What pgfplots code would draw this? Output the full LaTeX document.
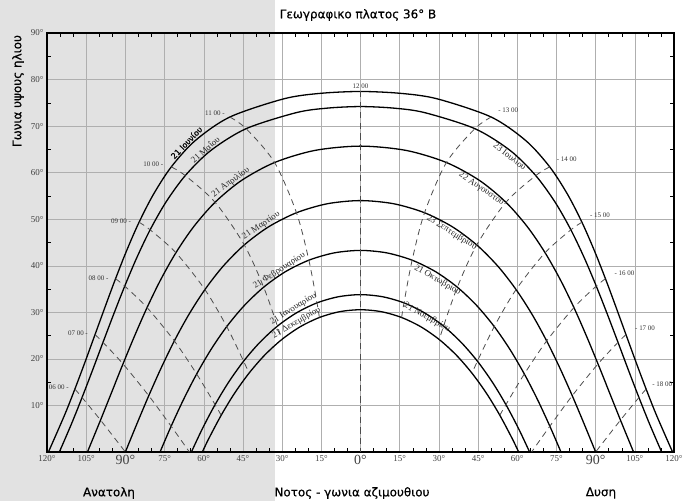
\documentclass[border=0pt]{standalone}
\usepackage{pgfplots}
\pgfplotsset{compat=1.18}
\usepackage{fontspec}
\setmainfont{Liberation Serif}
\newfontfamily\gsans[FakeBold=0.6]{DejaVu Sans}
\definecolor{bggray}{RGB}{226,226,226}
\definecolor{gridgray}{RGB}{175,175,175}
\tikzset{
  date/.style={black, line width=1.3bp, smooth},
  hour/.style={black!70, line width=0.8bp, smooth, dash pattern=on 6bp off 4.5bp},
  hl/.style={font=\fontsize{7}{8}\selectfont, text=black!80, inner sep=1bp},
  dl/.style={font=\fontsize{9}{10}\selectfont, text=black!85, inner sep=1bp},
  bl/.style={font=\gsans\fontsize{12}{14}\selectfont},
}
\begin{document}
\begin{tikzpicture}
\path[use as bounding box] (-47bp,-49bp) rectangle (646bp,452bp);
\fill[bggray] (-47bp,-49bp) rectangle (228bp,452bp);
\begin{axis}[
  at={(0bp,0bp)}, anchor=south west,
  scale only axis, width=627bp, height=419bp,
  xmin=-120, xmax=120, ymin=0, ymax=90,
  clip=false,
  axis line style={line width=1.1bp, black},
  xtick={-120,-105,...,120},
  xticklabels={120°,105°,{\fontsize{14}{14}\selectfont 90°},75°,60°,45°,30°,15°,{\fontsize{14}{14}\selectfont 0°},15°,30°,45°,60°,75°,{\fontsize{14}{14}\selectfont 90°},105°,120°},
  ytick={10,20,...,90},
  yticklabels={10°,20°,30°,40°,50°,60°,70°,80°,90°},
  minor x tick num=2, minor y tick num=1,
  major tick length=0pt, minor tick length=4bp,
  tick align=inside,
  every minor tick/.style={black, line width=0.5bp},
  grid=major,
  major grid style={gridgray, line width=0.5bp},
  ticklabel style={font=\fontsize{9}{10}\selectfont, text=black!75},
]
% date curves (21 Jun; 21 May/23 Jul; 21 Apr/22 Aug; 21 Mar/23 Sep; 21 Feb/21 Oct; 21 Jan/21 Nov; 21 Dec)
\addplot[date] coordinates {(-119.45,0) (-113.32,7.87) (-109.33,13.52) (-105.45,19.31) (-101.62,25.21) (-97.75,31.19) (-93.76,37.22) (-89.49,43.29) (-84.76,49.35) (-79.25,55.35) (-72.43,61.24) (-63.32,66.86) (-50.02,71.95) (-29.36,75.86) (-15.50,77.03) (0,77.44) (15.50,77.03) (29.36,75.86) (50.02,71.95) (63.32,66.86) (72.43,61.24) (79.25,55.35) (84.76,49.35) (89.49,43.29) (93.76,37.22) (97.75,31.19) (101.62,25.21) (105.45,19.31) (109.33,13.52) (113.32,7.87) (119.45,0)};
\addplot[date] coordinates {(-115.27,0) (-110.69,5.96) (-106.58,11.71) (-102.56,17.58) (-98.57,23.55) (-94.50,29.57) (-90.25,35.63) (-85.66,41.70) (-80.53,47.72) (-74.51,53.64) (-67.08,59.37) (-57.33,64.75) (-43.78,69.45) (-24.60,72.89) (-12.76,73.86) (0,74.2) (12.76,73.86) (24.60,72.89) (43.78,69.45) (57.33,64.75) (67.08,59.37) (74.51,53.64) (80.53,47.72) (85.66,41.70) (90.25,35.63) (94.50,29.57) (98.57,23.55) (102.56,17.58) (106.58,11.71) (110.69,5.96) (115.27,0)};
\addplot[date] coordinates {(-104.52,0) (-99.51,6.85) (-95.23,12.86) (-90.91,18.92) (-86.44,24.98) (-81.70,31.02) (-76.51,36.98) (-70.66,42.80) (-63.86,48.39) (-55.67,53.64) (-45.54,58.33) (-32.89,62.18) (-17.45,64.78) (0,65.7) (17.45,64.78) (32.89,62.18) (45.54,58.33) (55.67,53.64) (63.86,48.39) (70.66,42.80) (76.51,36.98) (81.70,31.02) (86.44,24.98) (90.91,18.92) (95.23,12.86) (99.51,6.85) (104.52,0)};
\addplot[date] coordinates {(-90,0) (-85.58,6.06) (-81.05,12.09) (-76.31,18.04) (-71.26,23.86) (-65.72,29.51) (-59.55,34.89) (-52.55,39.93) (-44.49,44.48) (-35.17,48.37) (-24.51,51.39) (-12.63,53.33) (0,54) (12.63,53.33) (24.51,51.39) (35.17,48.37) (44.49,44.48) (52.55,39.93) (59.55,34.89) (65.72,29.51) (71.26,23.86) (76.31,18.04) (81.05,12.09) (85.58,6.06) (90,0)};
\addplot[date] coordinates {(-76.73,0) (-72.48,5.54) (-67.76,11.25) (-62.71,16.76) (-57.23,22.01) (-51.20,26.94) (-44.51,31.44) (-37.07,35.40) (-28.80,38.71) (-19.76,41.20) (-10.06,42.77) (0,43.3) (10.06,42.77) (19.76,41.20) (28.80,38.71) (37.07,35.40) (44.51,31.44) (51.20,26.94) (57.23,22.01) (62.71,16.76) (67.76,11.25) (72.48,5.54) (76.73,0)};
\addplot[date] coordinates {(-64.73,0) (-60.50,5.03) (-55.66,10.18) (-50.44,15.03) (-44.75,19.51) (-38.55,23.54) (-31.79,27.04) (-24.47,29.90) (-16.65,32.03) (-8.43,33.35) (0,33.8) (8.43,33.35) (16.65,32.03) (24.47,29.90) (31.79,27.04) (38.55,23.54) (44.75,19.51) (50.44,15.03) (55.66,10.18) (60.50,5.03) (64.73,0)};
\addplot[date] coordinates {(-60.55,0) (-58.07,2.88) (-53.33,7.89) (-48.23,12.60) (-42.69,16.92) (-36.69,20.80) (-30.18,24.14) (-23.18,26.87) (-15.74,28.89) (-7.96,30.14) (0,30.56) (7.96,30.14) (15.74,28.89) (23.18,26.87) (30.18,24.14) (36.69,20.80) (42.69,16.92) (48.23,12.60) (53.33,7.89) (58.07,2.88) (60.55,0)};
% hour lines morning
\addplot[hour] coordinates {(-109.33,13.52) (-106.58,11.71) (-99.51,6.85) (-90,0)};
\addplot[hour] coordinates {(-101.62,25.21) (-98.57,23.55) (-90.91,18.92) (-81.05,12.09) (-72.48,5.54) (-65.49,0)};
\addplot[hour] coordinates {(-93.76,37.22) (-90.25,35.63) (-81.70,31.02) (-71.26,23.86) (-62.71,16.76) (-55.66,10.18) (-53.33,7.89)};
\addplot[hour] coordinates {(-84.76,49.35) (-80.53,47.72) (-70.66,42.80) (-59.55,34.89) (-51.20,26.94) (-44.75,19.51) (-42.69,16.92)};
\addplot[hour] coordinates {(-72.43,61.24) (-67.08,59.37) (-55.67,53.64) (-44.49,44.48) (-37.07,35.40) (-31.79,27.04) (-30.18,24.14)};
\addplot[hour] coordinates {(-50.02,71.95) (-43.78,69.45) (-32.89,62.18) (-24.51,51.39) (-19.76,41.20) (-16.65,32.03) (-15.74,28.89)};
\addplot[hour] coordinates {(0,77.44) (0,0)};
% hour lines afternoon
\addplot[hour] coordinates {(109.33,13.52) (106.58,11.71) (99.51,6.85) (90,0)};
\addplot[hour] coordinates {(101.62,25.21) (98.57,23.55) (90.91,18.92) (81.05,12.09) (72.48,5.54) (65.49,0)};
\addplot[hour] coordinates {(93.76,37.22) (90.25,35.63) (81.70,31.02) (71.26,23.86) (62.71,16.76) (55.66,10.18) (53.33,7.89)};
\addplot[hour] coordinates {(84.76,49.35) (80.53,47.72) (70.66,42.80) (59.55,34.89) (51.20,26.94) (44.75,19.51) (42.69,16.92)};
\addplot[hour] coordinates {(72.43,61.24) (67.08,59.37) (55.67,53.64) (44.49,44.48) (37.07,35.40) (31.79,27.04) (30.18,24.14)};
\addplot[hour] coordinates {(50.02,71.95) (43.78,69.45) (32.89,62.18) (24.51,51.39) (19.76,41.20) (16.65,32.03) (15.74,28.89)};
% hour labels
\node[hl, anchor=east, xshift=-5bp, yshift=2bp] at (-109.33,13.52) {06 00 -};
\node[hl, anchor=east, xshift=-6bp, yshift=1bp] at (-101.62,25.21) {07 00 -};
\node[hl, anchor=east, xshift=-6bp, yshift=1bp] at (-93.76,37.22) {08 00 -};
\node[hl, anchor=east, xshift=-7bp, yshift=1bp] at (-84.76,49.35) {09 00 -};
\node[hl, anchor=east, xshift=-7bp, yshift=3bp] at (-72.43,61.24) {10 00 -};
\node[hl, anchor=east, xshift=-4bp, yshift=4bp] at (-50.02,71.95) {11 00 -};
\node[hl, anchor=south, yshift=2bp] at (0,77.44) {12 00};
\node[hl, anchor=west, xshift=6bp, yshift=7bp] at (50.02,71.95) {- 13 00};
\node[hl, anchor=west, xshift=6bp, yshift=8bp] at (72.43,61.24) {- 14 00};
\node[hl, anchor=west, xshift=7bp, yshift=7bp] at (84.76,49.35) {- 15 00};
\node[hl, anchor=west, xshift=8bp, yshift=6bp] at (93.76,37.22) {- 16 00};
\node[hl, anchor=west, xshift=8bp, yshift=6bp] at (101.62,25.21) {- 17 00};
\node[hl, anchor=west, xshift=5bp, yshift=5bp] at (109.33,13.52) {- 18 00};
% date labels
\node[anchor=south, inner sep=1bp, rotate=46, font=\gsans\fontsize{8}{9}\selectfont] at (-65.4,65.8) {21 Ιουνίου};
\node[dl, anchor=south, rotate=42] at (-58.3,64.2) {21 Μαΐου};
\node[dl, anchor=south, rotate=37] at (-48.5,57.0) {21 Απριλίου};
\node[dl, anchor=south, rotate=34] at (-36.9,47.7) {21 Μαρτίου};
\node[dl, anchor=south, rotate=33] at (-30,38.0) {21 Φεβρουαρίου};
\node[dl, anchor=south, rotate=32] at (-24.6,29.8) {21 Ιανουαρίου};
\node[dl, anchor=south, rotate=30] at (-23.5,26.8) {21 Δεκεμβρίου};
\node[dl, anchor=north, rotate=-38] at (58.3,64.3) {23 Ιουλίου};
\node[dl, anchor=north, rotate=-34] at (47.5,57.5) {22 Αυγούστου};
\node[dl, anchor=north, rotate=-32] at (36,48.1) {23 Σεπτεμβρίου};
\node[dl, anchor=north, rotate=-30] at (30.5,37.9) {21 Οκτωβρίου};
\node[dl, anchor=north, rotate=-29] at (26.5,29.9) {21 Νοεμβρίου};
\end{axis}
\node[bl] at (311bp,437bp) {Γεωγραφικο πλατος 36° Β};
\node[bl, rotate=90] at (-29bp,361bp) {Γωνια υψους ηλιου};
\node[bl] at (62bp,-41bp) {Ανατολη};
\node[bl] at (305bp,-41bp) {Νοτος - γωνια αζιμουθιου};
\node[bl] at (554bp,-41bp) {Δυση};
\end{tikzpicture}
\end{document}
